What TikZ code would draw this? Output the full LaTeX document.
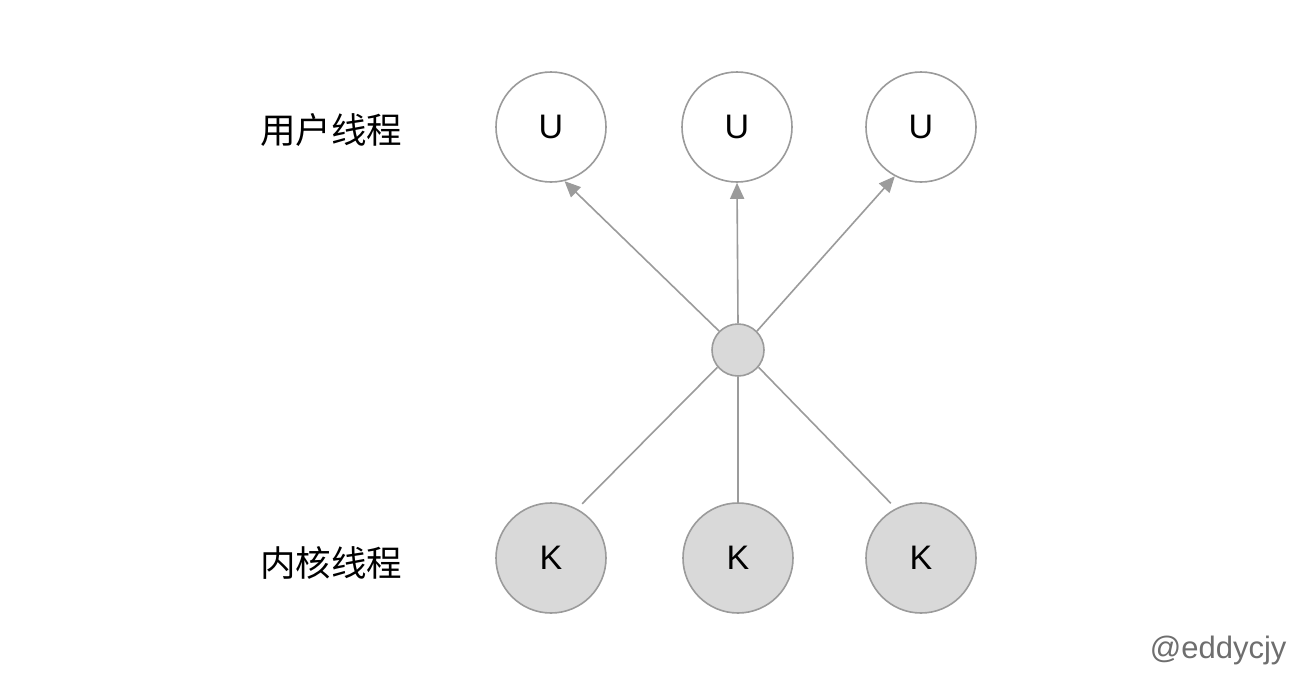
\documentclass[tikz,border=0pt]{standalone}
\usepackage{fontspec}
\setmainfont{Liberation Sans}
\newfontfamily\cjk{Noto Sans CJK SC}
\usetikzlibrary{arrows.meta}
\definecolor{edge}{HTML}{9B9B9B}
\definecolor{kfill}{HTML}{D9D9D9}
\definecolor{mark}{HTML}{6E6E6E}
\begin{document}
\begin{tikzpicture}[x=1pt,y=-1pt,
  thread/.style={circle,draw=edge,line width=1.6pt,minimum size=110pt,inner sep=0pt,font=\fontsize{34}{40}\selectfont},
  uthread/.style={thread,fill=white},
  kthread/.style={thread,fill=kfill},
  hub/.style={circle,draw=edge,fill=kfill,line width=1.6pt,minimum size=52pt,inner sep=0pt},
  link/.style={draw=edge,line width=1.6pt},
  arr/.style={link,-{Triangle[length=16pt,width=14pt]}},
  lbl/.style={font=\cjk\fontsize{35.5}{42}\selectfont}]
\useasboundingbox (0,0) rectangle (1314,686);
\fill[white] (0,0) rectangle (1314,686);
\node[uthread] (u1) at (551,127) {U};
\node[uthread] (u2) at (737,127) {U};
\node[uthread] (u3) at (921,127) {U};
\node[kthread] (k1) at (551,558) {K};
\node[kthread] (k2) at (738,558) {K};
\node[kthread] (k3) at (921,558) {K};
\node[hub] (c) at (738,350) {};
\draw[arr] (c.135) -- (u1.-76);
\draw[arr] (c.north) -- (u2.south);
\draw[arr] (c.45) -- (u3.-118);
\draw[link,shorten <=7pt] (k1.62) -- (c.220);
\draw[link] (k2.north) -- (c.south);
\draw[link,shorten <=7pt] (k3.117) -- (c.-40);
\node[lbl] (lu) at (331,130) {用户线程};
\node[lbl] (lk) at (331,563) {内核线程};
\node[font=\fontsize{31}{36}\selectfont,text=mark,anchor=east] (wm) at (1290,650) {@eddycjy};
\end{tikzpicture}
\end{document}
